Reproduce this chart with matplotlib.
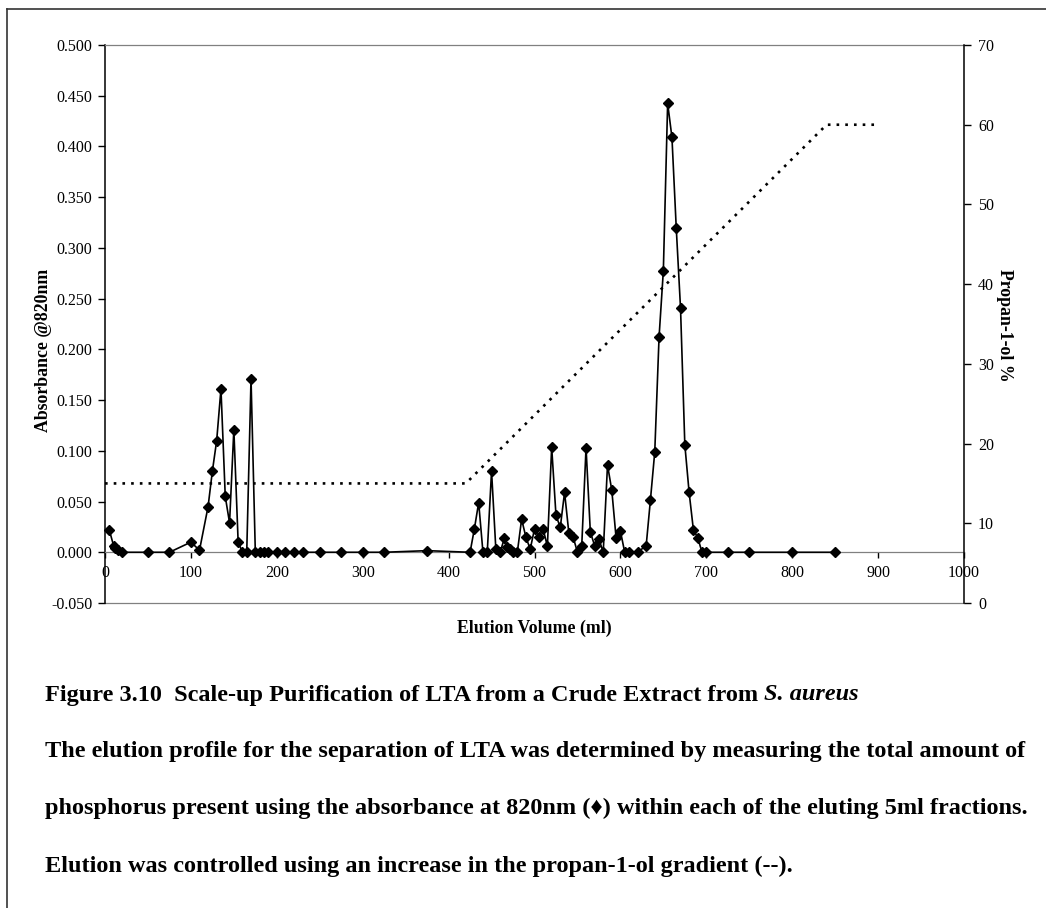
import matplotlib
matplotlib.use("Agg")
import matplotlib.pyplot as plt
from matplotlib.lines import Line2D
import numpy as np

# ---------------- data ----------------
volume = [5, 10, 12, 15, 20, 50, 75, 100, 110, 120,
          125, 130, 135, 140, 145, 150, 155, 160, 165, 170,
          175, 180, 185, 190, 200, 210, 220, 230, 250, 275,
          300, 325, 375, 425, 430, 435, 440, 445, 450, 455,
          460, 465, 468, 471, 475, 480, 485, 490, 495, 500,
          505, 510, 515, 520, 525, 530, 535, 540, 545, 550,
          555, 560, 565, 570, 575, 580, 585, 590, 595, 600,
          605, 610, 620, 630, 635, 640, 645, 650, 655, 660,
          665, 670, 675, 680, 685, 690, 695, 700, 725, 750,
          800, 850]

absorbance = [0.022, 0.0065, 0.004, 0.0023, 0.000, 0.000, 0.000, 0.010, 0.002, 0.045,
              0.080, 0.110, 0.161, 0.055, 0.029, 0.121, 0.010, 0.000, 0.000, 0.171,
              0.000, 0.000, 0.000, 0.000, 0.000, 0.000, 0.000, 0.000, 0.000, 0.000,
              0.000, 0.000, 0.0016, 0.000, 0.023, 0.049, 0.000, 0.000, 0.080, 0.003,
              0.000, 0.014, 0.0055, 0.0033, 0.000, 0.000, 0.0325, 0.015, 0.003, 0.023,
              0.015, 0.023, 0.006, 0.1035, 0.0365, 0.0245, 0.059, 0.019, 0.015, 0.000,
              0.0065, 0.103, 0.020, 0.0065, 0.013, 0.000, 0.086, 0.061, 0.014, 0.021,
              0.000, 0.000, 0.000, 0.0065, 0.052, 0.099, 0.212, 0.2775, 0.4425, 0.409,
              0.320, 0.2405, 0.106, 0.059, 0.022, 0.0145, 0.000, 0.000, 0.000, 0.000,
              0.000, 0.000]

gradient_volume = [0, 420, 840, 900]
gradient_percent = [15, 15, 60, 60]

x_ticks = list(range(0, 1001, 100))
y_ticks = [-0.05, 0.0, 0.05, 0.10, 0.15, 0.20, 0.25, 0.30, 0.35, 0.40, 0.45, 0.50]
y2_ticks = list(range(0, 71, 10))

caption_title = "Figure 3.10  Scale-up Purification of LTA from a Crude Extract from "
caption_species = "S. aureus"
caption_lines = [
    "The elution profile for the separation of LTA was determined by measuring the total amount of",
    "phosphorus present using the absorbance at 820nm (\u2666) within each of the eluting 5ml fractions.",
    "Elution was controlled using an increase in the propan-1-ol gradient (--).",
]

# ---------------- figure ----------------
W, H = 1046, 908
SERIF = ["Liberation Serif", "DejaVu Serif"]
plt.rcParams["font.family"] = SERIF

fig = plt.figure(figsize=(W / 100, H / 100), dpi=100)
fig.patch.set_facecolor("white")

def fx(px):
    return px / W

def fy(py):
    return 1 - py / H

left, right, top, bottom = 105, 964, 45, 603
ax = fig.add_axes([fx(left), fy(bottom), (right - left) / W, (bottom - top) / H])
ax2 = ax.twinx()

# absorbance series
ax.plot(volume, absorbance, color="black", lw=1.2, marker="D", ms=4.6,
        mfc="black", mec="black", zorder=3, clip_on=False)

ax.set_xlim(0, 1000)
ax.set_ylim(-0.05, 0.5)
ax.set_xticks(x_ticks)
ax.set_xticklabels([str(v) for v in x_ticks])
ax.set_yticks(y_ticks)
ax.set_yticklabels(["%.3f" % v for v in y_ticks])

# spines
ax.spines["bottom"].set_position(("data", 0))
ax.spines["bottom"].set_color("#808080")
ax.spines["bottom"].set_linewidth(0.9)
ax.spines["top"].set_color("#808080")
ax.spines["top"].set_linewidth(0.9)
ax.spines["left"].set_color("black")
ax.spines["left"].set_linewidth(1.1)
ax.spines["right"].set_visible(False)
ax.axhline(-0.05, color="#808080", lw=0.9, clip_on=False, zorder=1)

ax.tick_params(axis="y", direction="out", length=5, width=1, pad=4,
               labelsize=11.5, colors="black")
ax.tick_params(axis="x", direction="out", length=4, width=1, pad=5,
               labelsize=11.5, colors="black")

# gradient series
ax2.plot(gradient_volume, gradient_percent, color="black", lw=1.9,
         linestyle=(0, (1, 2.3)))
ax2.set_ylim(0, 70)
ax2.set_yticks(y2_ticks)
ax2.set_yticklabels([str(v) for v in y2_ticks])
ax2.tick_params(axis="y", direction="out", length=5, width=1, pad=5, labelsize=11.5)
for s in ["top", "bottom", "left"]:
    ax2.spines[s].set_visible(False)
ax2.spines["right"].set_color("black")
ax2.spines["right"].set_linewidth(1.1)

# axis titles
TFS = 12.8
ax.set_ylabel("Absorbance @820nm", fontsize=TFS, fontweight="bold")
ax.yaxis.set_label_coords((44 - left) / (right - left), (bottom - 350) / (bottom - top))
ax.yaxis.label.set_va("center")
ax2.set_ylabel("Propan-1-ol %", fontsize=TFS, fontweight="bold", rotation=-90)
ax2.yaxis.set_label_coords((1005 - left) / (right - left), (bottom - 325) / (bottom - top))
ax2.yaxis.label.set_va("center")
ax.set_xlabel("Elution Volume (ml)", fontsize=TFS, fontweight="bold")
ax.xaxis.set_label_coords(0.5, (bottom - 628) / (bottom - top))
ax.xaxis.label.set_va("center")

# outer frame (left and top edges)
fig.add_artist(Line2D([fx(7), fx(7)], [fy(9), 0], transform=fig.transFigure,
                      color="#333333", lw=1.2))
fig.add_artist(Line2D([fx(7), 1], [fy(9), fy(9)], transform=fig.transFigure,
                      color="#333333", lw=1.2))

# caption
fig.canvas.draw()
renderer = fig.canvas.get_renderer()
probe = fig.text(fx(45), fy(750), caption_lines[0], fontsize=16, fontweight="bold",
                 va="center", ha="left")
bb = probe.get_window_extent(renderer)
fs = 16 * (1027 - 45) / bb.width
probe.remove()

line_y = [695, 751, 808, 866]
t1 = fig.text(fx(45), fy(line_y[0]), caption_title, fontsize=fs, fontweight="bold",
              va="center", ha="left")
bb1 = t1.get_window_extent(renderer)
fig.text(bb1.x1 / W, fy(line_y[0]), caption_species, fontsize=fs, fontweight="bold",
         style="italic", va="center", ha="left")
for yy, txt in zip(line_y[1:], caption_lines):
    fig.text(fx(45), fy(yy), txt, fontsize=fs, fontweight="bold", va="center", ha="left",
             family=SERIF + ["DejaVu Sans"])

fig.savefig("out.png", dpi=100, facecolor="white")
